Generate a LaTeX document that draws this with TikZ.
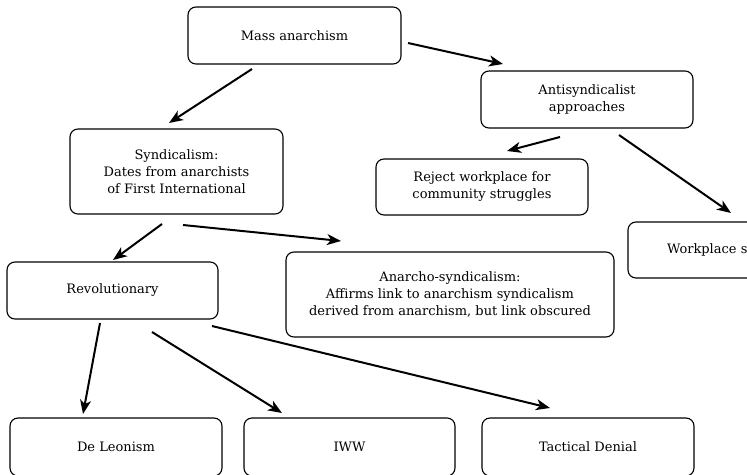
\documentclass[tikz,border=0pt]{standalone}
\usepackage{fontspec}
\setmainfont{DejaVu Serif}
\usetikzlibrary{arrows.meta}
\begin{document}
\begin{tikzpicture}[x=1pt,y=-1pt,
  box/.style={draw, rounded corners=8pt, line width=1.1pt, align=center,
    font=\fontsize{13}{17}\selectfont, inner sep=0pt},
  arr/.style={-{Stealth[length=14pt,width=11pt,inset=4pt]}, line width=2pt}]
\useasboundingbox (0,0) rectangle (747,474);
\fill[white] (0,0) rectangle (747,474);
\clip (0,0) rectangle (747,474);
\node[box, minimum width=213, minimum height=57] (mass) at (294.5,35.5) {Mass anarchism};
\node[box, minimum width=212, minimum height=57] (anti) at (587,99.5) {Antisyndicalist\\approaches};
\node[box, minimum width=212, minimum height=56] (reject) at (482,187) {Reject workplace for\\community struggles};
\node[box, minimum width=212, minimum height=56, text width=134pt, align=left] (work) at (734,250) {Workplace s};
\node[box, minimum width=213, minimum height=85] (synd) at (176.5,171.5) {Syndicalism:\\Dates from anarchists\\of First International};
\node[box, minimum width=211, minimum height=57] (rev) at (112.5,290.5) {Revolutionary};
\node[box, minimum width=328, minimum height=85] (anarcho) at (450,294.5) {Anarcho-syndicalism:\\Affirms link to anarchism syndicalism\\derived from anarchism, but link obscured};
\node[box, minimum width=212, minimum height=58] (deleon) at (116,447) {De Leonism};
\node[box, minimum width=211, minimum height=58] (iww) at (349.5,447) {IWW};
\node[box, minimum width=212, minimum height=58] (tact) at (588,447) {Tactical Denial};
\coordinate (a1s) at (252,69);  \coordinate (a1e) at (169,123);
\coordinate (a2s) at (408,43);  \coordinate (a2e) at (503,64);
\coordinate (a3s) at (560,137); \coordinate (a3e) at (507,151);
\coordinate (a4s) at (619,135); \coordinate (a4e) at (731,213);
\coordinate (a5s) at (162,224); \coordinate (a5e) at (113,260);
\coordinate (a6s) at (183,225); \coordinate (a6e) at (341,241);
\coordinate (a7s) at (100,323); \coordinate (a7e) at (83,414);
\coordinate (a8s) at (152,332); \coordinate (a8e) at (282,413);
\coordinate (a9s) at (212,326); \coordinate (a9e) at (550,408);
\draw[arr] (a1s) -- (a1e);
\draw[arr] (a2s) -- (a2e);
\draw[arr] (a3s) -- (a3e);
\draw[arr] (a4s) -- (a4e);
\draw[arr] (a5s) -- (a5e);
\draw[arr] (a6s) -- (a6e);
\draw[arr] (a7s) -- (a7e);
\draw[arr] (a8s) -- (a8e);
\draw[arr] (a9s) -- (a9e);
\end{tikzpicture}
\end{document}
